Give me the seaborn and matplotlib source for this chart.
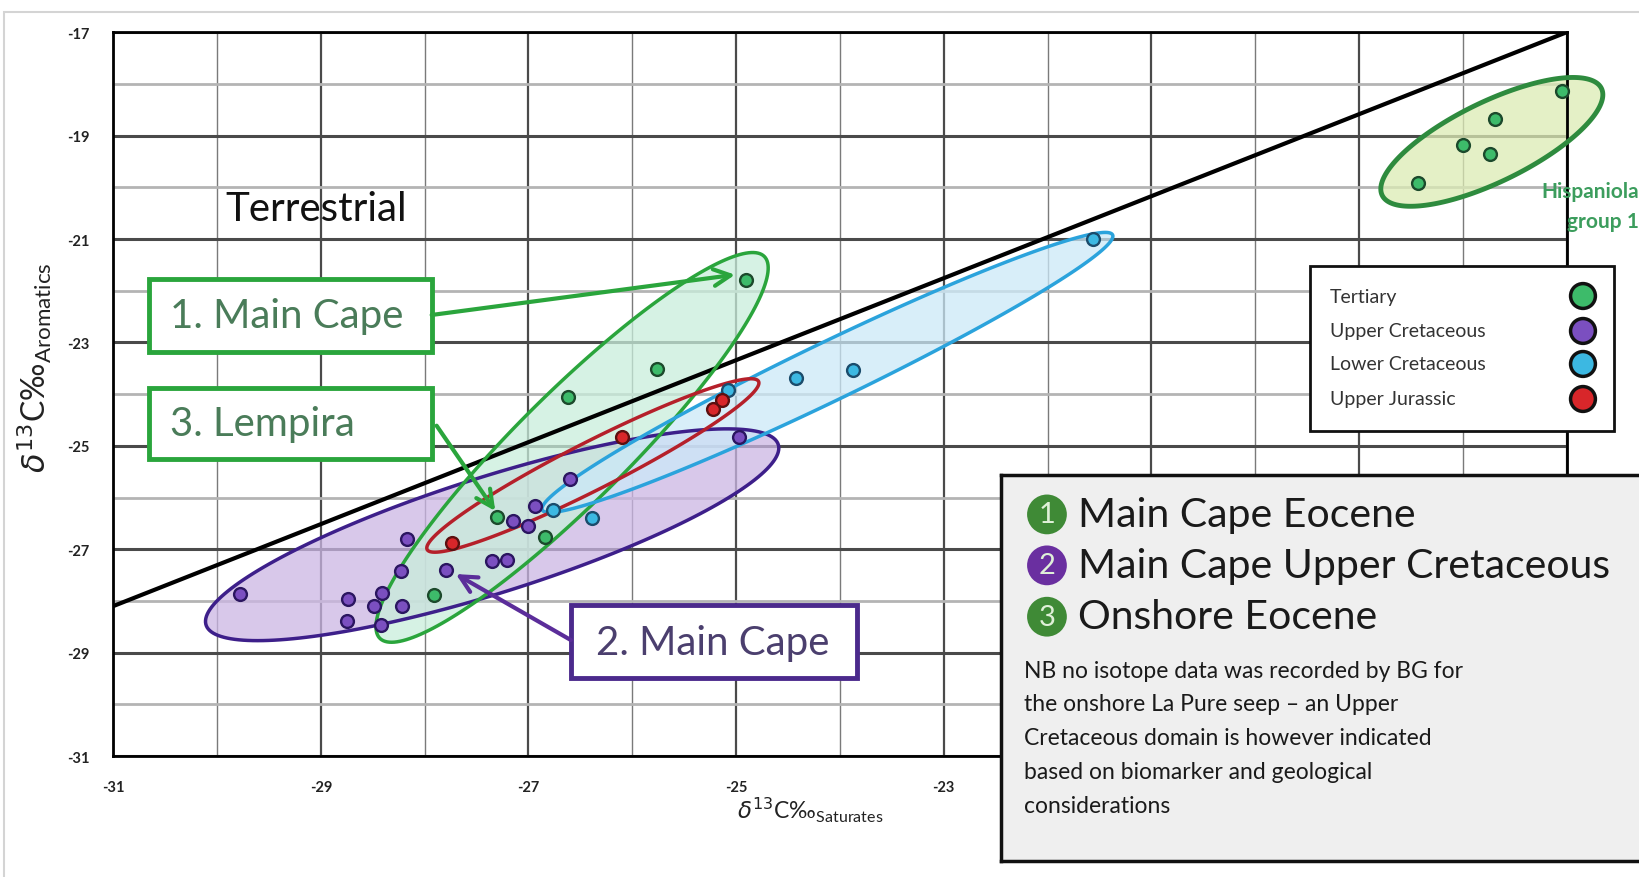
import numpy as np
import pandas as pd
import matplotlib
matplotlib.use('Agg')
import matplotlib.pyplot as plt
import seaborn as sns
from matplotlib.patches import Polygon, Rectangle

# d13C saturates (x) vs d13C aromatics (y)
tert_x = [-17.04, -17.69, -18.00, -17.74, -18.43, -24.90, -25.76, -26.62, -27.30, -26.84, -27.91]
tert_y = [-18.14, -18.67, -19.19, -19.36, -19.91, -21.80, -23.52, -24.05, -26.38, -26.77, -27.88]
ucret_x = [-24.97, -26.60, -26.94, -27.15, -27.00, -28.17, -27.35, -27.21, -27.79, -28.23,
           -28.41, -28.74, -28.49, -28.22, -28.75, -28.42, -29.78]
ucret_y = [-24.83, -25.64, -26.16, -26.45, -26.55, -26.80, -27.22, -27.20, -27.41, -27.42,
           -27.84, -27.97, -28.10, -28.09, -28.39, -28.47, -27.86]
lcret_x = [-26.76, -26.39, -24.42, -23.87, -21.56, -25.08]
lcret_y = [-26.24, -26.40, -23.69, -23.54, -21.00, -23.92]
ujur_x = [-25.22, -25.14, -26.10, -27.74]
ujur_y = [-24.29, -24.12, -24.83, -26.88]

# terrestrial / marine divide
line_x = [-31, -17]
line_y = [-28.1, -17.0]

ticks = [-31, -29, -27, -25, -23, -21, -19, -17]
xtick_labels = ['-31', '-29', '-27', '-25', '-23', '', '', '']  # rest sit under the note box
ytick_labels = ['-31', '-29', '-27', '-25', '-23', '-21', '-19', '-17']

ages = ['Tertiary', 'Upper Cretaceous', 'Lower Cretaceous', 'Upper Jurassic']
fills = ['#3dbb6a', '#7b4fc0', '#3cb8e2', '#d8262a']
edges = ['#1c4a2c', '#2b1660', '#1b4c6c', '#5c1010']

df = pd.concat([
    pd.DataFrame({'sat': tert_x, 'aro': tert_y, 'age': ages[0]}),
    pd.DataFrame({'sat': ucret_x, 'aro': ucret_y, 'age': ages[1]}),
    pd.DataFrame({'sat': lcret_x, 'aro': lcret_y, 'age': ages[2]}),
    pd.DataFrame({'sat': ujur_x, 'aro': ujur_y, 'age': ages[3]}),
])

sns.set_theme(style='white')
plt.rcParams['font.family'] = ['Lato', 'DejaVu Sans']
plt.rcParams['mathtext.fontset'] = 'dejavusans'
plt.rcParams['axes.unicode_minus'] = False

fig = plt.figure(figsize=(16.39, 8.78), dpi=100)
fig.patch.set_facecolor('white')
ax = fig.add_axes([0.0691, 0.1378, 0.8867, 0.8243])

ax.set_xlim(-31, -17)
ax.set_ylim(-31, -17)
ax.set_xticks(ticks)
ax.set_xticklabels(xtick_labels)
ax.set_yticks(ticks)
ax.set_yticklabels(ytick_labels)
ax.set_xticks(np.arange(-30, -16, 2), minor=True)
ax.set_yticks(np.arange(-30, -16, 2), minor=True)
ax.xaxis.grid(True, which='major', color='#4a4a4a', lw=1.6)
ax.yaxis.grid(True, which='major', color='#4a4a4a', lw=2.2)
ax.xaxis.grid(True, which='minor', color='#7a7a7a', lw=1.0)
ax.yaxis.grid(True, which='minor', color='#b4b4b4', lw=2.0)
ax.set_axisbelow(True)
ax.tick_params(which='both', length=0, labelsize=10.5, colors='#222222', pad=17)
for lab in ax.get_xticklabels() + ax.get_yticklabels():
    lab.set_fontweight('bold')
for s in ax.spines.values():
    s.set_color('black')
    s.set_linewidth(2)

# aspect between x and y data units on screen (for ellipses)
pos = ax.get_position()
k = (pos.width * 16.39) / (pos.height * 8.78)


def ellipse(cx, cy, a, b, ang):
    t = np.linspace(0, 2 * np.pi, 200)
    th = np.radians(ang)
    u, w = a * np.cos(t), b * np.sin(t)
    dx = u * np.cos(th) - w * np.sin(th)
    dy = (u * np.sin(th) + w * np.cos(th)) * k
    return np.column_stack([cx + dx, cy + dy])


# (centre x, centre y, semi-major, semi-minor, angle, fill, edge)
groups = [
    (-27.35, -26.72, 2.89, 0.56, 17.5, '#cbb6e4', '#3d1f8a'),
    (-26.58, -25.03, 2.61, 0.53, 44.8, '#c9eedb', '#2aa53c'),
    (-24.12, -23.58, 3.05, 0.28, 25.75, '#cbe9f8', '#2ba3dc'),
    (-26.38, -25.38, 1.79, 0.23, 26.9, 'none', '#b5202a'),
    (-17.72, -19.12, 1.175, 0.385, 26.0, '#dcebb4', '#2e8b3e'),
]
for cx, cy, a, b, ang, fc, ec in groups:
    pts = ellipse(cx, cy, a, b, ang)
    if fc != 'none':
        ax.add_patch(Polygon(pts, closed=True, facecolor=fc, edgecolor='none', alpha=0.75,
                             zorder=1, clip_on=False))
for cx, cy, a, b, ang, fc, ec in groups:
    pts = ellipse(cx, cy, a, b, ang)
    lw = 3.5 if cx > -19 else 2.5
    ax.add_patch(Polygon(pts, closed=True, facecolor='none', edgecolor=ec, lw=lw,
                         zorder=3, clip_on=False))

ax.plot(line_x, line_y, color='black', lw=3, zorder=2, solid_capstyle='butt')

for age, fc, ec in zip(ages, fills, edges):
    sns.scatterplot(data=df[df['age'] == age], x='sat', y='aro', color=fc, edgecolor=ec,
                    s=85, linewidth=1.7, ax=ax, zorder=5, legend=False, clip_on=False)

ax.set_xlabel(r'$\delta^{13}$C‰$_{\mathregular{Saturates}}$', fontsize=16.5, color='#222222')
ax.set_ylabel(r'$\delta^{13}$C‰$_{\mathregular{Aromatics}}$', fontsize=23, color='#222222')
ax.xaxis.set_label_coords(0.4794, -0.054)
ax.yaxis.set_label_coords(-0.041, 0.5375)

ax.text(0.0769, 0.757, 'Terrestrial', transform=ax.transAxes, fontsize=29,
        ha='left', va='center', color='#111111', zorder=6)
ax.text(1.0499, 0.760, 'Hispaniola\ngroup 1', transform=ax.transAxes, fontsize=15,
        fontweight='bold', ha='right', va='center', multialignment='right',
        color='#3c9d5d', clip_on=False, zorder=6, linespacing=1.65)

# labelled boxes with arrows
boxes = [
    (0.0249, 0.5578, 0.1942, 0.1013, '#2aa53c', '1. Main Cape', 0.0392, 0.6084, '#4a7c59'),
    (0.0249, 0.4104, 0.1942, 0.0981, '#2aa53c', '3. Lempira', 0.0392, 0.4594, '#4a7c59'),
    (0.3148, 0.1071, 0.1970, 0.1016, '#4b2a8c', '2. Main Cape', 0.3321, 0.1575, '#4b3f6e'),
]
for x0, y0, w, h, ec, label, tx, ty, tc in boxes:
    ax.add_patch(Rectangle((x0, y0), w, h, transform=ax.transAxes, facecolor='white',
                           edgecolor=ec, lw=3.5, zorder=6))
    ax.text(tx, ty, label, transform=ax.transAxes, fontsize=29, color=tc,
            ha='left', va='center', zorder=7)

arrows = [
    ((-25.01, -21.69), (0.2191, 0.6094), '#2aa53c'),
    ((-27.32, -26.26), (0.2225, 0.4564), '#2aa53c'),
    ((-27.70, -27.48), (0.3148, 0.1603), '#5b2d9a'),
]
for xy, start, col in arrows:
    ax.annotate('', xy=xy, xycoords='data', xytext=start, textcoords='axes fraction',
                arrowprops=dict(arrowstyle='->', color=col, lw=3, mutation_scale=30,
                                shrinkA=0, shrinkB=0), zorder=7)

# age key: labels on the left, markers on the right
ax.add_patch(Rectangle((0.8235, 0.449), 0.2092, 0.228, transform=ax.transAxes,
                       facecolor='white', edgecolor='#111111', lw=2, zorder=8, clip_on=False))
key_y = [0.6356, 0.5873, 0.5417, 0.4933]
for yy, age in zip(key_y, ages):
    ax.text(0.8373, yy, age, transform=ax.transAxes, fontsize=14, color='#333333',
            ha='left', va='center', zorder=9, clip_on=False)
ax.scatter([1.0113] * 4, key_y, s=320, c=fills, edgecolors='#111111', linewidths=2.5,
           transform=ax.transAxes, zorder=9, clip_on=False)

# note box
ax2 = fig.add_axes([0.6107, 0.0182, 0.40, 0.4396])
ax2.set_facecolor('#efefef')
ax2.set_xlim(0, 1)
ax2.set_ylim(0, 1)
ax2.set_xticks([])
ax2.set_yticks([])
for s in ax2.spines.values():
    s.set_color('#111111')
    s.set_linewidth(2.5)
badge_y = [0.898, 0.766, 0.633]
badge_c = ['#3f8a36', '#6a2fa0', '#3f8a36']
badge_t = ['Main Cape Eocene', 'Main Cape Upper Cretaceous', 'Onshore Eocene']
ax2.scatter([0.0702] * 3, badge_y, s=820, c=badge_c, edgecolors='none', zorder=3)
for i, (yy, txt) in enumerate(zip(badge_y, badge_t)):
    ax2.text(0.0702, yy, str(i + 1), fontsize=21, color='#dff0d8', ha='center',
             va='center', zorder=4)
    ax2.text(0.118, yy, txt, fontsize=29.5, color='#1a1a1a', ha='left', va='center')
note = ('NB no isotope data was recorded by BG for\n'
        'the onshore La Pure seep \u2013 an Upper\n'
        'Cretaceous domain is however indicated\n'
        'based on biomarker and geological\n'
        'considerations')
ax2.text(0.0351, 0.522, note, fontsize=16.5, color='#1a1a1a', ha='left', va='top',
         linespacing=1.76)

# light outer frame
fig.add_artist(Rectangle((4 / 1639, -0.01), 1.0, 1 - 13 / 878 + 0.01,
                         transform=fig.transFigure, facecolor='none',
                         edgecolor='#d4d4d4', lw=1.5))

fig.savefig('out.png', dpi=100)
